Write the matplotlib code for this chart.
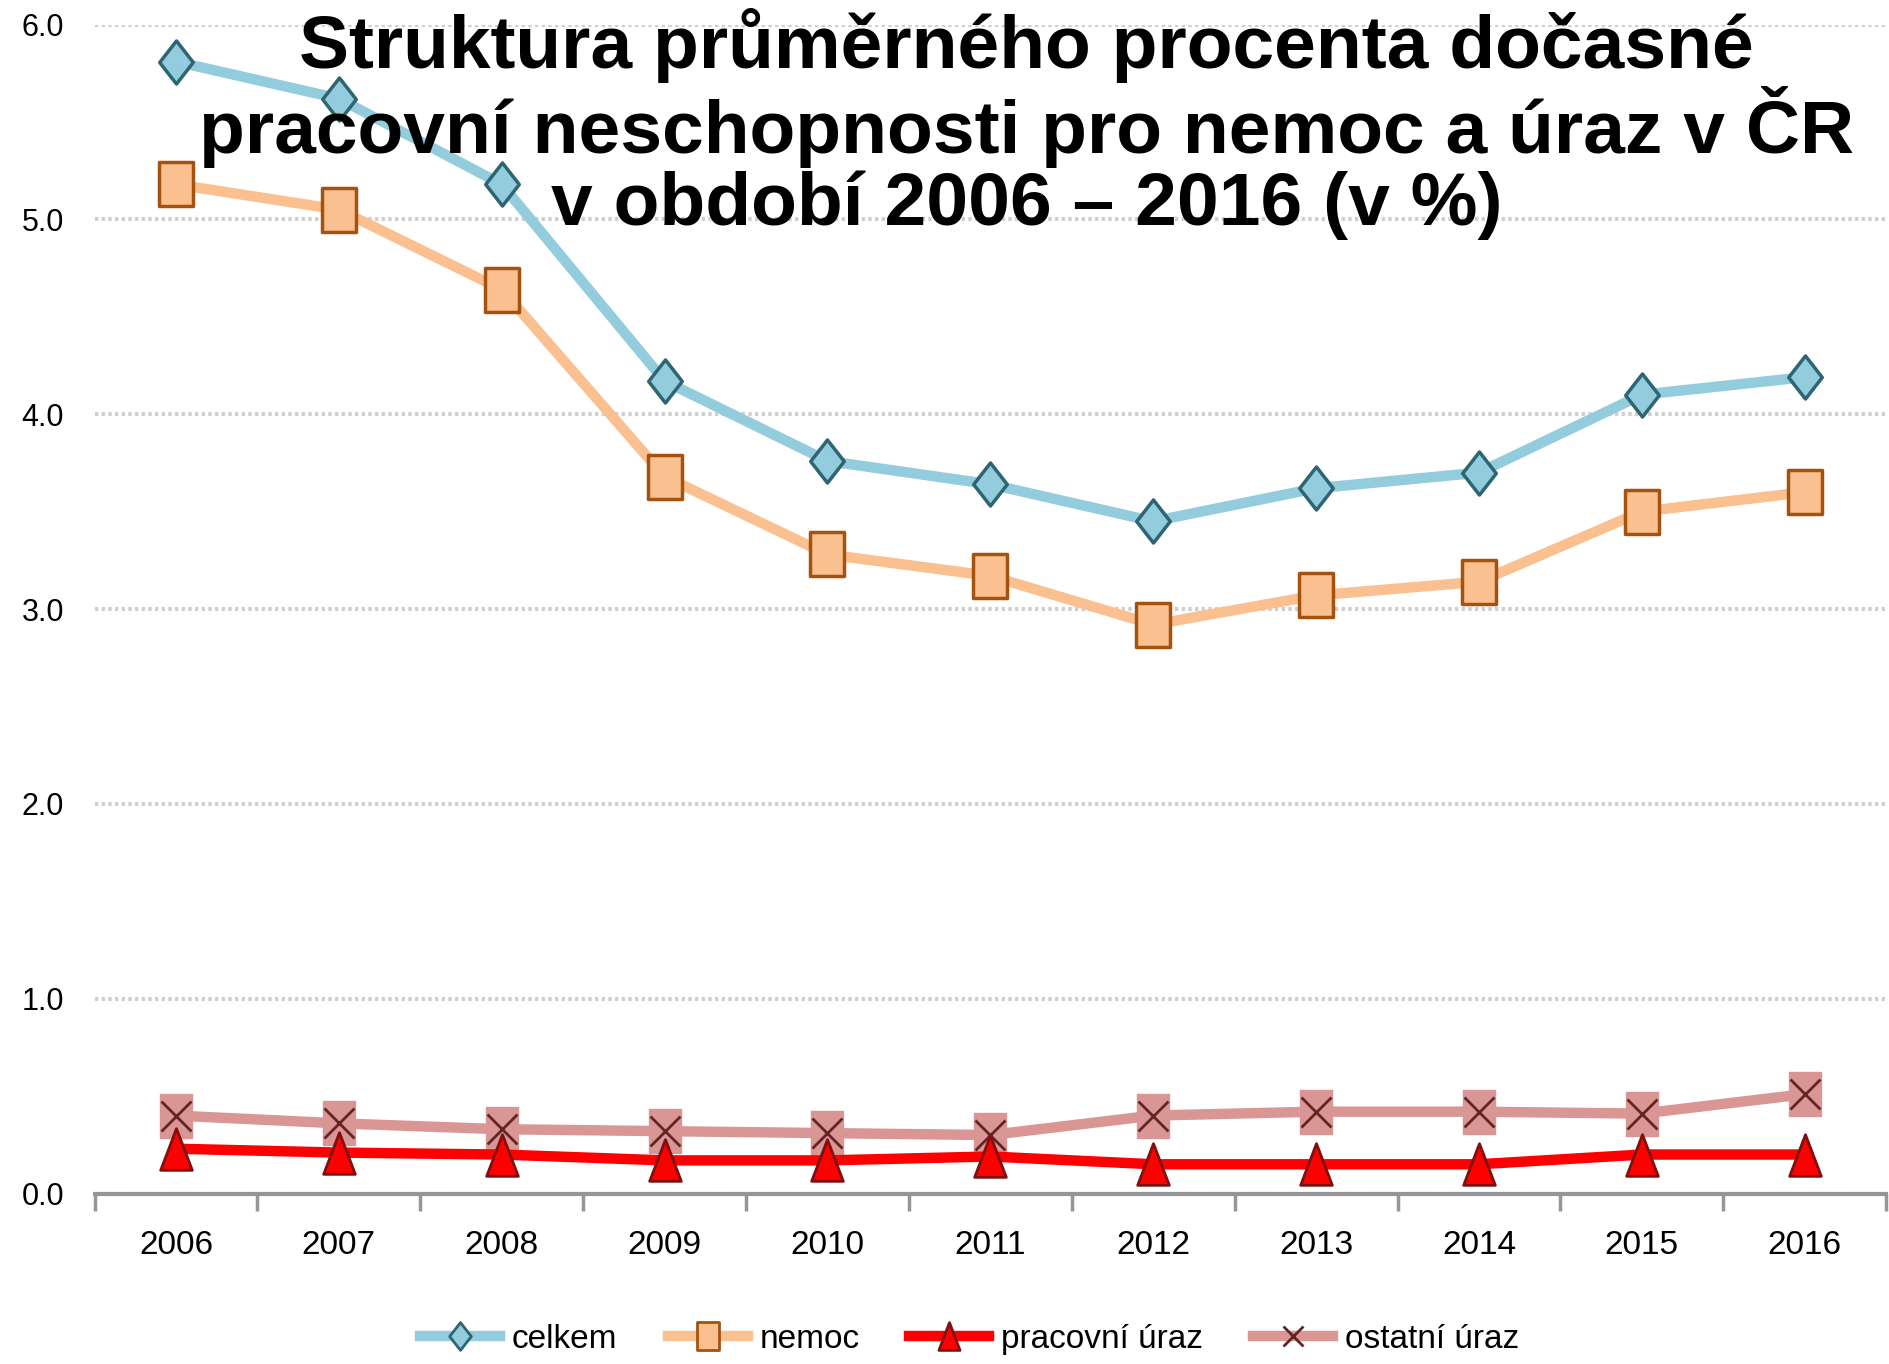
import matplotlib
matplotlib.use("Agg")
import matplotlib.pyplot as plt
import numpy as np
from matplotlib.path import Path

years = ["2006", "2007", "2008", "2009", "2010", "2011", "2012", "2013", "2014", "2015", "2016"]
celkem = [5.81, 5.62, 5.18, 4.17, 3.76, 3.64, 3.45, 3.62, 3.70, 4.10, 4.19]
nemoc = [5.18, 5.05, 4.64, 3.68, 3.28, 3.17, 2.92, 3.07, 3.14, 3.50, 3.60]
pracovni = [0.23, 0.21, 0.20, 0.17, 0.17, 0.19, 0.15, 0.15, 0.15, 0.20, 0.20]
ostatni = [0.40, 0.36, 0.33, 0.32, 0.31, 0.30, 0.40, 0.42, 0.42, 0.41, 0.51]
yticks = [0.0, 1.0, 2.0, 3.0, 4.0, 5.0, 6.0]

TITLE = ("Struktura průměrného procenta dočasné\n"
         "pracovní neschopnosti pro nemoc a úraz v ČR\n"
         "v období 2006 – 2016 (v %)")

SANS = ["Liberation Sans", "DejaVu Sans"]

# tall markers (the source image is stretched vertically)
diamond = Path([(0, 0.5), (0.39, 0), (0, -0.5), (-0.39, 0), (0, 0.5)], closed=True)
rect = Path([(-0.38, -0.5), (0.38, -0.5), (0.38, 0.5), (-0.38, 0.5), (-0.38, -0.5)], closed=True)
tri = Path([(0, 0.5), (0.38, -0.5), (-0.38, -0.5), (0, 0.5)], closed=True)

fig = plt.figure(figsize=(18.9, 13.64), dpi=100)
ax = fig.add_axes([0.050, 0.125, 0.948, 0.857])
x = np.arange(len(years))

lw = 7.5
ax.plot(x, ostatni, color="#D99694", lw=lw, marker=rect, ms=31, mfc="#D99694",
        mec="#D99694", zorder=3)
ax.plot(x, ostatni, ls="none", marker="x", ms=22, mew=2, mec="#632523", zorder=4)
ax.plot(x, pracovni, color="#FF0000", lw=lw, marker=tri, ms=30, mfc="#FF0000",
        mec="#7F1010", mew=2, zorder=5)
ax.plot(x, nemoc, color="#FAC090", lw=lw, marker=rect, ms=32, mfc="#FAC090",
        mec="#A5520F", mew=2.5, zorder=3)
ax.plot(x, celkem, color="#93CDDD", lw=lw, marker=diamond, ms=31, mfc="#93CDDD",
        mec="#2E6573", mew=2.5, zorder=3)

# legend proxies
h1, = ax.plot([], [], color="#93CDDD", lw=lw, marker=diamond, ms=20, mfc="#93CDDD", mec="#2E6573", mew=2)
h2, = ax.plot([], [], color="#FAC090", lw=lw, marker=rect, ms=20, mfc="#FAC090", mec="#A5520F", mew=2)
h3, = ax.plot([], [], color="#FF0000", lw=lw, marker=tri, ms=20, mfc="#FF0000", mec="#7F1010", mew=2)
h4, = ax.plot([], [], color="#D99694", lw=lw, marker="x", ms=15, mew=2, mec="#632523")
fig.legend([h1, h2, h3, h4], ["celkem", "nemoc", "pracovní úraz", "ostatní úraz"],
           loc="center", bbox_to_anchor=(0.513, 0.018), ncol=4, frameon=False,
           prop={"family": SANS, "size": 24}, handlelength=2.4, handletextpad=0.35,
           columnspacing=1.5)

ax.set_xlim(-0.5, len(years) - 0.5)
ax.set_ylim(0, 6.0)
ax.set_yticks(yticks)
ax.set_yticklabels([f"{v:.1f}" for v in yticks], family=SANS, fontsize=22)
ax.tick_params(axis="y", length=0, pad=22)
ax.set_xticks(np.arange(-0.5, len(years), 1.0))
ax.set_xticklabels([])
ax.set_xticks(x, minor=True)
ax.set_xticklabels(years, minor=True, family=SANS, fontsize=24)
ax.tick_params(axis="x", which="minor", length=0, pad=26)
ax.tick_params(axis="x", which="major", length=12, width=2.5, color="#969696")

for s in ("top", "right", "left"):
    ax.spines[s].set_visible(False)
ax.spines["bottom"].set_color("#969696")
ax.spines["bottom"].set_linewidth(3)
ax.yaxis.grid(True, color="#CFCFCF", ls=(0, (0.8, 0.8)), lw=3)
ax.set_axisbelow(True)

fig.text(0.543, 0.909, TITLE, ha="center", va="center", fontsize=54, fontweight="bold",
         family=SANS, linespacing=1.04, zorder=10)

fig.savefig("out.png", dpi=100)
